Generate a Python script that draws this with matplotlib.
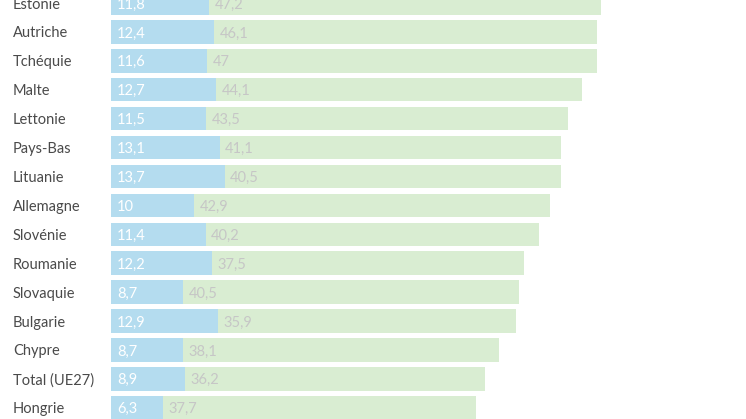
import matplotlib.pyplot as plt
from matplotlib.transforms import blended_transform_factory

# Data
countries = ["Estonie", "Autriche", "Tchéquie", "Malte", "Lettonie", "Pays-Bas",
             "Lituanie", "Allemagne", "Slovénie", "Roumanie", "Slovaquie",
             "Bulgarie", "Chypre", "Total (UE27)", "Hongrie"]
part_a = [11.8, 12.4, 11.6, 12.7, 11.5, 13.1, 13.7, 10, 11.4, 12.2, 8.7, 12.9, 8.7, 8.9, 6.3]
part_b = [47.2, 46.1, 47, 44.1, 43.5, 41.1, 40.5, 42.9, 40.2, 37.5, 40.5, 35.9, 38.1, 36.2, 37.7]

blue = "#b4dcef"
green = "#d9edd2"

plt.rcParams['font.family'] = ['Lato', 'DejaVu Sans']

fig = plt.figure(figsize=(7.46, 4.19), dpi=100)
ax = fig.add_axes([0, 0, 1, 1])

ypos = list(range(len(countries)))
ax.barh(ypos, part_a, height=0.81, color=blue)
ax.barh(ypos, part_b, left=part_a, height=0.81, color=green)

def fmt(v):
    return ("%g" % v).replace(".", ",")

for y, a, b in zip(ypos, part_a, part_b):
    ax.text(0.7, y, fmt(a), color="white", fontsize=10.5, va="center_baseline", ha="left")
    ax.text(a + 0.65, y, fmt(b), color="#c6c6c6", fontsize=10.5, va="center_baseline", ha="left")

# country names on the left
trans = blended_transform_factory(ax.transAxes, ax.transData)
for y, name in zip(ypos, countries):
    ax.text(13 / 746, y, name, transform=trans, color="#4a4a4a", fontsize=10.5,
            va="center_baseline", ha="left")

ax.set_xlim(-111 / 8.3, (746 - 111) / 8.3)
ax.set_ylim(14.39, -0.104)
ax.axis("off")

fig.savefig("out.png", dpi=100)
